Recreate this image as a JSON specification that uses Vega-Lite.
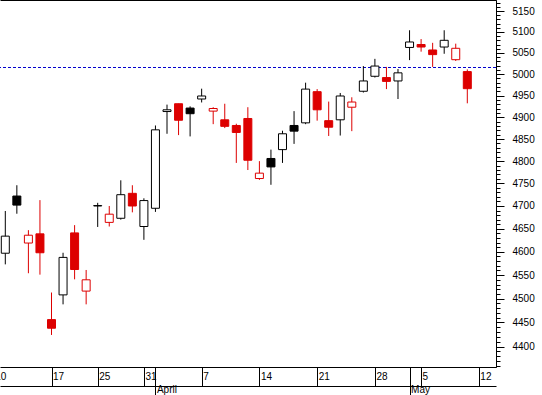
{
  "$schema": "https://vega.github.io/schema/vega-lite/v6.json",
  "width": 496,
  "height": 367,
  "autosize": {"type": "none"},
  "padding": {"left": 0, "top": 0, "right": 46, "bottom": 28},
  "background": "white",
  "view": {"stroke": null},
  "config": {"font": "Liberation Sans"},
  "data": {"values": [
    {"i": 1, "date": "2008-03-11", "open": 4597, "high": 4689, "low": 4573, "close": 4634},
    {"i": 2, "date": "2008-03-12", "open": 4722, "high": 4746, "low": 4683, "close": 4702},
    {"i": 3, "date": "2008-03-13", "open": 4619, "high": 4647, "low": 4554, "close": 4636},
    {"i": 4, "date": "2008-03-14", "open": 4639, "high": 4713, "low": 4551, "close": 4598},
    {"i": 5, "date": "2008-03-17", "open": 4456, "high": 4513, "low": 4424, "close": 4438},
    {"i": 6, "date": "2008-03-18", "open": 4508, "high": 4598, "low": 4488, "close": 4588},
    {"i": 7, "date": "2008-03-19", "open": 4641, "high": 4658, "low": 4541, "close": 4562},
    {"i": 8, "date": "2008-03-20", "open": 4516, "high": 4561, "low": 4488, "close": 4540},
    {"i": 9, "date": "2008-03-25", "open": 4700, "high": 4707, "low": 4654, "close": 4701},
    {"i": 10, "date": "2008-03-26", "open": 4664, "high": 4700, "low": 4655, "close": 4682},
    {"i": 11, "date": "2008-03-27", "open": 4673, "high": 4757, "low": 4670, "close": 4725},
    {"i": 12, "date": "2008-03-28", "open": 4728, "high": 4746, "low": 4686, "close": 4700},
    {"i": 13, "date": "2008-03-31", "open": 4655, "high": 4717, "low": 4626, "close": 4712},
    {"i": 14, "date": "2008-04-01", "open": 4695, "high": 4881, "low": 4687, "close": 4871},
    {"i": 15, "date": "2008-04-02", "open": 4913, "high": 4929, "low": 4862, "close": 4917},
    {"i": 16, "date": "2008-04-03", "open": 4931, "high": 4931, "low": 4859, "close": 4893},
    {"i": 17, "date": "2008-04-04", "open": 4921, "high": 4925, "low": 4856, "close": 4908},
    {"i": 18, "date": "2008-04-07", "open": 4942, "high": 4966, "low": 4934, "close": 4949},
    {"i": 19, "date": "2008-04-08", "open": 4914, "high": 4923, "low": 4884, "close": 4920},
    {"i": 20, "date": "2008-04-09", "open": 4894, "high": 4931, "low": 4875, "close": 4879},
    {"i": 21, "date": "2008-04-10", "open": 4881, "high": 4885, "low": 4796, "close": 4865},
    {"i": 22, "date": "2008-04-11", "open": 4897, "high": 4923, "low": 4780, "close": 4802},
    {"i": 23, "date": "2008-04-14", "open": 4761, "high": 4800, "low": 4758, "close": 4773},
    {"i": 24, "date": "2008-04-15", "open": 4806, "high": 4826, "low": 4747, "close": 4787},
    {"i": 25, "date": "2008-04-16", "open": 4826, "high": 4869, "low": 4796, "close": 4862},
    {"i": 26, "date": "2008-04-17", "open": 4881, "high": 4914, "low": 4839, "close": 4868},
    {"i": 27, "date": "2008-04-18", "open": 4887, "high": 4980, "low": 4884, "close": 4965},
    {"i": 28, "date": "2008-04-21", "open": 4959, "high": 4965, "low": 4892, "close": 4917},
    {"i": 29, "date": "2008-04-22", "open": 4892, "high": 4936, "low": 4857, "close": 4877},
    {"i": 30, "date": "2008-04-23", "open": 4894, "high": 4956, "low": 4858, "close": 4949},
    {"i": 31, "date": "2008-04-24", "open": 4923, "high": 4946, "low": 4868, "close": 4935},
    {"i": 32, "date": "2008-04-25", "open": 4960, "high": 5019, "low": 4957, "close": 4984},
    {"i": 33, "date": "2008-04-28", "open": 4995, "high": 5036, "low": 4992, "close": 5019},
    {"i": 34, "date": "2008-04-29", "open": 4992, "high": 5017, "low": 4965, "close": 4983},
    {"i": 35, "date": "2008-04-30", "open": 4984, "high": 5012, "low": 4942, "close": 5003},
    {"i": 36, "date": "2008-05-02", "open": 5063, "high": 5104, "low": 5033, "close": 5076},
    {"i": 37, "date": "2008-05-05", "open": 5070, "high": 5083, "low": 5053, "close": 5064},
    {"i": 38, "date": "2008-05-06", "open": 5057, "high": 5074, "low": 5017, "close": 5046},
    {"i": 39, "date": "2008-05-07", "open": 5064, "high": 5104, "low": 5048, "close": 5080},
    {"i": 40, "date": "2008-05-08", "open": 5034, "high": 5072, "low": 5031, "close": 5061},
    {"i": 41, "date": "2008-05-09", "open": 5006, "high": 5011, "low": 4932, "close": 4966}
  ]},
  "transform": [
    {"window": [{"op": "lag", "field": "close", "as": "prev"}], "sort": [{"field": "i"}]}
  ],
  "resolve": {"axis": {"x": "independent", "y": "independent"}},
  "layer": [
    {
      "data": {"values": [{"level": 5015.6}]},
      "mark": {"type": "rule", "color": "#0000cc", "strokeWidth": 1, "strokeDash": [3, 2]},
      "encoding": {
        "y": {"field": "level", "type": "quantitative", "scale": {"type": "log", "domain": [4358, 5177], "nice": false, "zero": false, "padding": 0}, "axis": null}
      }
    },
    {
      "transform": [{"filter": "!(datum.prev != null && datum.close < datum.prev)"}],
      "mark": {"type": "rule", "strokeWidth": 1, "color": "#000000"},
      "encoding": {
        "x": {"field": "i", "type": "quantitative", "scale": {"domain": [0.541, 43.485], "nice": false, "zero": false, "padding": 0},
          "axis": {"orient": "top", "ticks": false, "labels": false, "domain": true, "domainColor": "#000000", "domainWidth": 1, "grid": false, "title": null}},
        "y": {"field": "low", "type": "quantitative", "scale": {"type": "log", "domain": [4358, 5177], "nice": false, "zero": false, "padding": 0},
          "axis": {
            "orient": "right", "title": null, "grid": false,
            "values": [4400,4450,4500,4550,4600,4650,4700,4750,4800,4850,4900,4950,5000,5050,5100,5150],
            "tickSize": 8, "tickColor": "#000000", "tickWidth": 1,
            "domainColor": "#000000", "domainWidth": 1,
            "format": "d",
            "labelPadding": 8, "labelAlign": "left", "labelBaseline": "middle",
            "labelFont": "Liberation Sans", "labelFontSize": 10, "labelColor": "#000000",
            "labelOverlap": false, "labelFlush": false, "labelBound": false
          }},
        "y2": {"field": "high"}
      }
    },
    {
      "transform": [{"filter": "datum.prev != null && datum.close < datum.prev"}],
      "mark": {"type": "rule", "strokeWidth": 1, "color": "#dd0000"},
      "encoding": {
        "x": {"field": "i", "type": "quantitative", "scale": {"domain": [0.541, 43.485], "nice": false, "zero": false, "padding": 0},
          "axis": {"orient": "bottom", "values": [0.6], "title": null, "grid": false, "domain": false,
            "labelExpr": "'10'",
            "tickSize": 19, "tickOpacity": 0,
            "labelAlign": "left", "labelBaseline": "middle", "labelPadding": -10, "labelOffset": -5.9,
            "labelFont": "Liberation Sans", "labelFontSize": 10, "labelColor": "#000000",
            "labelOverlap": false, "labelFlush": false, "labelBound": false}},
        "y": {"field": "low", "type": "quantitative", "scale": {"type": "log", "domain": [4358, 5177], "nice": false, "zero": false, "padding": 0}, "axis": null},
        "y2": {"field": "high"}
      }
    },
    {
      "transform": [{"filter": "datum.close >= datum.open"}],
      "mark": {"type": "bar", "size": 8, "strokeWidth": 1, "fill": "#ffffff"},
      "encoding": {
        "x": {"field": "i", "type": "quantitative", "scale": {"domain": [0.541, 43.485], "nice": false, "zero": false, "padding": 0},
          "axis": {"orient": "bottom", "offset": 19, "values": [14, 36], "title": null, "grid": false,
            "labelExpr": "datum.value == 14 ? 'April' : 'May'",
            "tickSize": 10, "tickColor": "#000000", "tickWidth": 1, "domainColor": "#000000", "domainWidth": 1,
            "labelAlign": "left", "labelBaseline": "middle", "labelPadding": -7, "labelOffset": 1,
            "labelFont": "Liberation Sans", "labelFontSize": 10, "labelColor": "#000000",
            "labelOverlap": false, "labelFlush": false, "labelBound": false}},
        "y": {"field": "open", "type": "quantitative", "scale": {"type": "log", "domain": [4358, 5177], "nice": false, "zero": false, "padding": 0},
          "axis": {
            "orient": "right", "title": null, "grid": false, "labels": false,
            "values": [4360,4370,4380,4390,4410,4420,4430,4440,4460,4470,4480,4490,4510,4520,4530,4540,4560,4570,4580,4590,4610,4620,4630,4640,4660,4670,4680,4690,4710,4720,4730,4740,4760,4770,4780,4790,4810,4820,4830,4840,4860,4870,4880,4890,4910,4920,4930,4940,4960,4970,4980,4990,5010,5020,5030,5040,5060,5070,5080,5090,5110,5120,5130,5140,5160,5170],
            "tickSize": 4, "tickColor": "#000000", "tickWidth": 1,
            "domainColor": "#000000", "domainWidth": 1
          }},
        "y2": {"field": "close"},
        "stroke": {"condition": {"test": "datum.prev != null && datum.close < datum.prev", "value": "#dd0000"}, "value": "#000000"}
      }
    },
    {
      "transform": [{"filter": "datum.close < datum.open"}],
      "mark": {"type": "bar", "size": 8, "strokeWidth": 1},
      "encoding": {
        "x": {"field": "i", "type": "quantitative", "scale": {"domain": [0.541, 43.485], "nice": false, "zero": false, "padding": 0},
          "axis": {"orient": "bottom", "values": [5, 9, 13, 14, 18, 23, 28, 33, 36, 37, 42], "title": null, "grid": false,
            "labelExpr": "['17','25','31','','7','14','21','28','','5','12'][indexof([5,9,13,14,18,23,28,33,36,37,42], datum.value)]",
            "tickSize": 19, "tickColor": "#000000", "tickWidth": 1, "domainColor": "#000000", "domainWidth": 1,
            "labelAlign": "left", "labelBaseline": "middle", "labelPadding": -10, "labelOffset": 1,
            "labelFont": "Liberation Sans", "labelFontSize": 10, "labelColor": "#000000",
            "labelOverlap": false, "labelFlush": false, "labelBound": false}},
        "y": {"field": "open", "type": "quantitative", "scale": {"type": "log", "domain": [4358, 5177], "nice": false, "zero": false, "padding": 0}, "axis": null},
        "y2": {"field": "close"},
        "fill": {"condition": {"test": "datum.prev != null && datum.close < datum.prev", "value": "#dd0000"}, "value": "#000000"},
        "stroke": {"condition": {"test": "datum.prev != null && datum.close < datum.prev", "value": "#dd0000"}, "value": "#000000"}
      }
    }
  ]
}
